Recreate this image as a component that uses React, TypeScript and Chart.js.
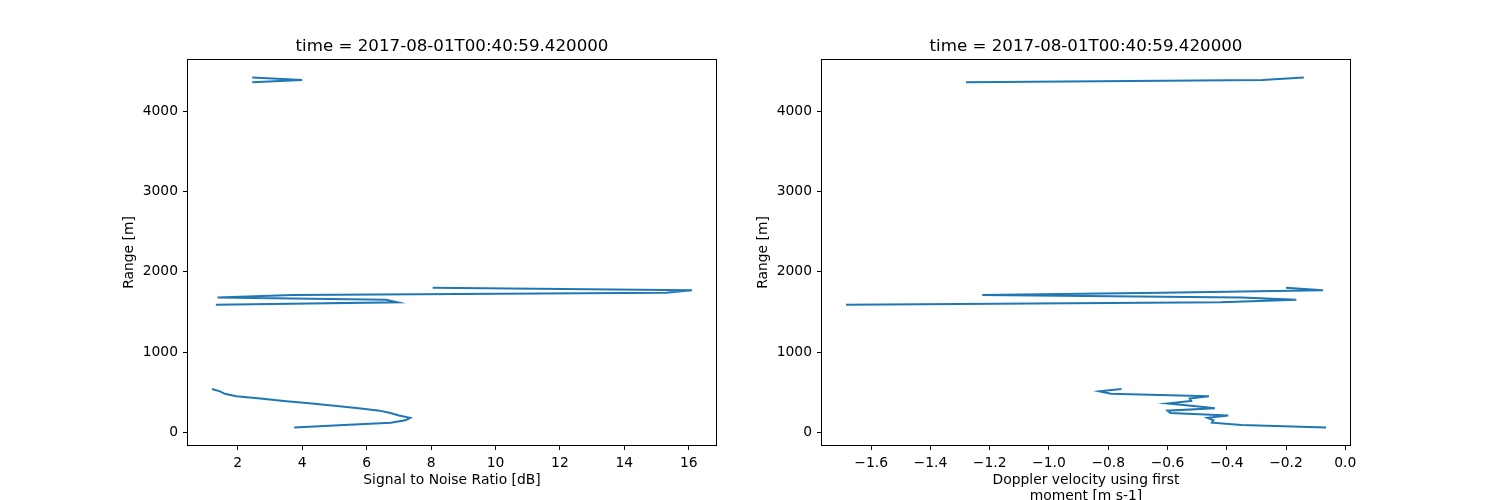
import React, { useEffect, useRef } from 'react';
import { Chart, registerables } from 'chart.js';

Chart.register(...registerables);

// ---- data ----
const TITLE = 'time = 2017-08-01T00:40:59.420000';

const rangeLow = [60, 90, 120, 150, 180, 210, 240, 270, 300, 330, 360, 390, 420, 450, 480, 510, 540];
const rangeMid = [1590, 1620, 1650, 1680, 1710, 1740, 1770, 1800];
const rangeTop = [4360, 4390, 4420];

const snrLow = [3.75, 5.3, 6.75, 7.2, 7.35, 7.0, 6.74, 6.4, 5.75, 5.0, 4.3, 3.43, 2.7, 1.95, 1.6, 1.45, 1.2];
const snrMid = [1.32, 6.95, 6.6, 1.37, 3.7, 15.3, 16.1, 8.05];
const snrTop = [2.45, 4.0, 2.45];

const velLow = [-0.065, -0.35, -0.45, -0.445, -0.465, -0.395, -0.59, -0.6, -0.44, -0.52, -0.6, -0.52, -0.525, -0.46, -0.79, -0.83, -0.755];
const velMid = [-1.685, -0.42, -0.165, -0.35, -1.225, -0.62, -0.075, -0.2];
const velTop = [-1.28, -0.28, -0.14];

const rangeTicks = [0, 1000, 2000, 3000, 4000];
const rangeTickLabels = ['0', '1000', '2000', '3000', '4000'];
const snrTicks = [2, 4, 6, 8, 10, 12, 14, 16];
const snrTickLabels = ['2', '4', '6', '8', '10', '12', '14', '16'];
const velTicks = [-1.6, -1.4, -1.2, -1.0, -0.8, -0.6, -0.4, -0.2, 0.0];
const velTickLabels = ['\u22121.6', '\u22121.4', '\u22121.2', '\u22121.0', '\u22120.8', '\u22120.6', '\u22120.4', '\u22120.2', '0.0'];

const SNR_LABEL = 'Signal to Noise Ratio [dB]';
const VEL_LABEL = ['Doppler velocity using first', 'moment [m s-1]'];
const RANGE_LABEL = 'Range [m]';

// ---- helpers ----
const FAMILY = '"DejaVu Sans", sans-serif';
const LINE_COLOR = '#1f77b4';

function profile(values: number[][], ranges: number[][]) {
  const out: { x: number | null; y: number | null }[] = [];
  values.forEach((vals, s) => {
    if (s > 0) out.push({ x: null, y: null });
    vals.forEach((v, i) => out.push({ x: v, y: ranges[s][i] }));
  });
  return out;
}

function padded(arrs: number[][]): [number, number] {
  const all = arrs.flat();
  const lo = Math.min(...all);
  const hi = Math.max(...all);
  const m = (hi - lo) * 0.05;
  return [lo - m, hi + m];
}

function labelFor(ticks: number[], labels: string[], v: number) {
  for (let i = 0; i < ticks.length; i++) if (Math.abs(ticks[i] - v) < 1e-9) return labels[i];
  return '';
}

const framePlugin = {
  id: 'frame',
  afterDraw(chart: any) {
    const { ctx, chartArea: a } = chart;
    ctx.save();
    ctx.strokeStyle = '#000';
    ctx.lineWidth = 1;
    ctx.strokeRect(a.left - 0.5, a.top - 0.5, a.right - a.left + 1, a.bottom - a.top + 1);
    ctx.restore();
  },
};

type PanelProps = {
  xVals: number[][];
  xTicks: number[];
  xTickLabels: string[];
  xTitle: string | string[];
  xTitlePad: number;
  yAxisWidth: number;
  yTitlePad: number;
  rightPad: number;
};

const W = 750;
const H = 520;

function Panel(p: PanelProps) {
  const ref = useRef<HTMLCanvasElement | null>(null);
  useEffect(() => {
    if (!ref.current) return;
    const ranges = [rangeLow, rangeMid, rangeTop];
    const [xmin, xmax] = padded(p.xVals);
    const [ymin, ymax] = padded(ranges);
    const tickFont = { family: FAMILY, size: 13.89 };
    const grid = {
      display: true,
      drawOnChartArea: false,
      drawTicks: true,
      tickLength: 5,
      tickWidth: 1,
      tickColor: '#000',
      color: '#000',
    };
    const chart = new Chart(ref.current, {
      type: 'line',
      data: {
        datasets: [
          {
            data: profile(p.xVals, ranges) as any,
            borderColor: LINE_COLOR,
            backgroundColor: LINE_COLOR,
            borderWidth: 2,
            pointRadius: 0,
            fill: false,
            tension: 0,
            spanGaps: false,
          },
        ],
      },
      options: {
        animation: false,
        responsive: false,
        events: [],
        layout: { padding: { left: 0, right: p.rightPad, top: 0, bottom: 0 } },
        plugins: {
          legend: { display: false },
          tooltip: { enabled: false },
          title: {
            display: true,
            text: TITLE,
            fullSize: false,
            color: '#000',
            font: { family: FAMILY, size: 16.67, weight: 'normal', lineHeight: 1.2 },
            padding: { top: 37, bottom: 3 },
          },
        },
        scales: {
          x: {
            type: 'linear',
            position: 'bottom',
            min: xmin,
            max: xmax,
            afterFit: (s: any) => {
              s.height = H - 445;
            },
            afterBuildTicks: (s: any) => {
              s.ticks = p.xTicks.map((v) => ({ value: v }));
            },
            ticks: {
              callback: (v: any) => labelFor(p.xTicks, p.xTickLabels, Number(v)),
              autoSkip: false,
              maxRotation: 0,
              minRotation: 0,
              color: '#000',
              font: tickFont,
              padding: 5,
            },
            grid,
            border: { display: false },
            title: {
              display: true,
              text: p.xTitle,
              color: '#000',
              font: { family: FAMILY, size: 13.89, lineHeight: 1.2 },
              padding: { top: 0, bottom: p.xTitlePad },
            },
          },
          y: {
            type: 'linear',
            position: 'left',
            min: ymin,
            max: ymax,
            afterFit: (s: any) => {
              s.width = p.yAxisWidth;
            },
            afterBuildTicks: (s: any) => {
              s.ticks = rangeTicks.map((v) => ({ value: v }));
            },
            ticks: {
              callback: (v: any) => labelFor(rangeTicks, rangeTickLabels, Number(v)),
              autoSkip: false,
              color: '#000',
              font: tickFont,
              padding: 5,
            },
            grid,
            border: { display: false },
            title: {
              display: true,
              text: RANGE_LABEL,
              color: '#000',
              font: { family: FAMILY, size: 13.89, lineHeight: 1.2 },
              padding: { top: p.yTitlePad, bottom: 0 },
            },
          },
        },
      } as any,
      plugins: [framePlugin],
    });
    return () => chart.destroy();
  }, []);
  return <canvas ref={ref} width={W} height={H} style={{ display: 'block', width: W, height: H }} />;
}

export default function App() {
  return (
    <div
      style={{
        position: 'absolute',
        left: 0,
        top: 0,
        width: 1500,
        height: 500,
        overflow: 'hidden',
        background: '#fff',
        display: 'flex',
      }}
    >
      <Panel
        xVals={[snrLow, snrMid, snrTop]}
        xTicks={snrTicks}
        xTickLabels={snrTickLabels}
        xTitle={SNR_LABEL}
        xTitlePad={31.7}
        yAxisWidth={188}
        yTitlePad={120.7}
        rightPad={34}
      />
      <Panel
        xVals={[velLow, velMid, velTop]}
        xTicks={velTicks}
        xTickLabels={velTickLabels}
        xTitle={VEL_LABEL}
        xTitlePad={15}
        yAxisWidth={72}
        yTitlePad={4.7}
        rightPad={150}
      />
    </div>
  );
}
